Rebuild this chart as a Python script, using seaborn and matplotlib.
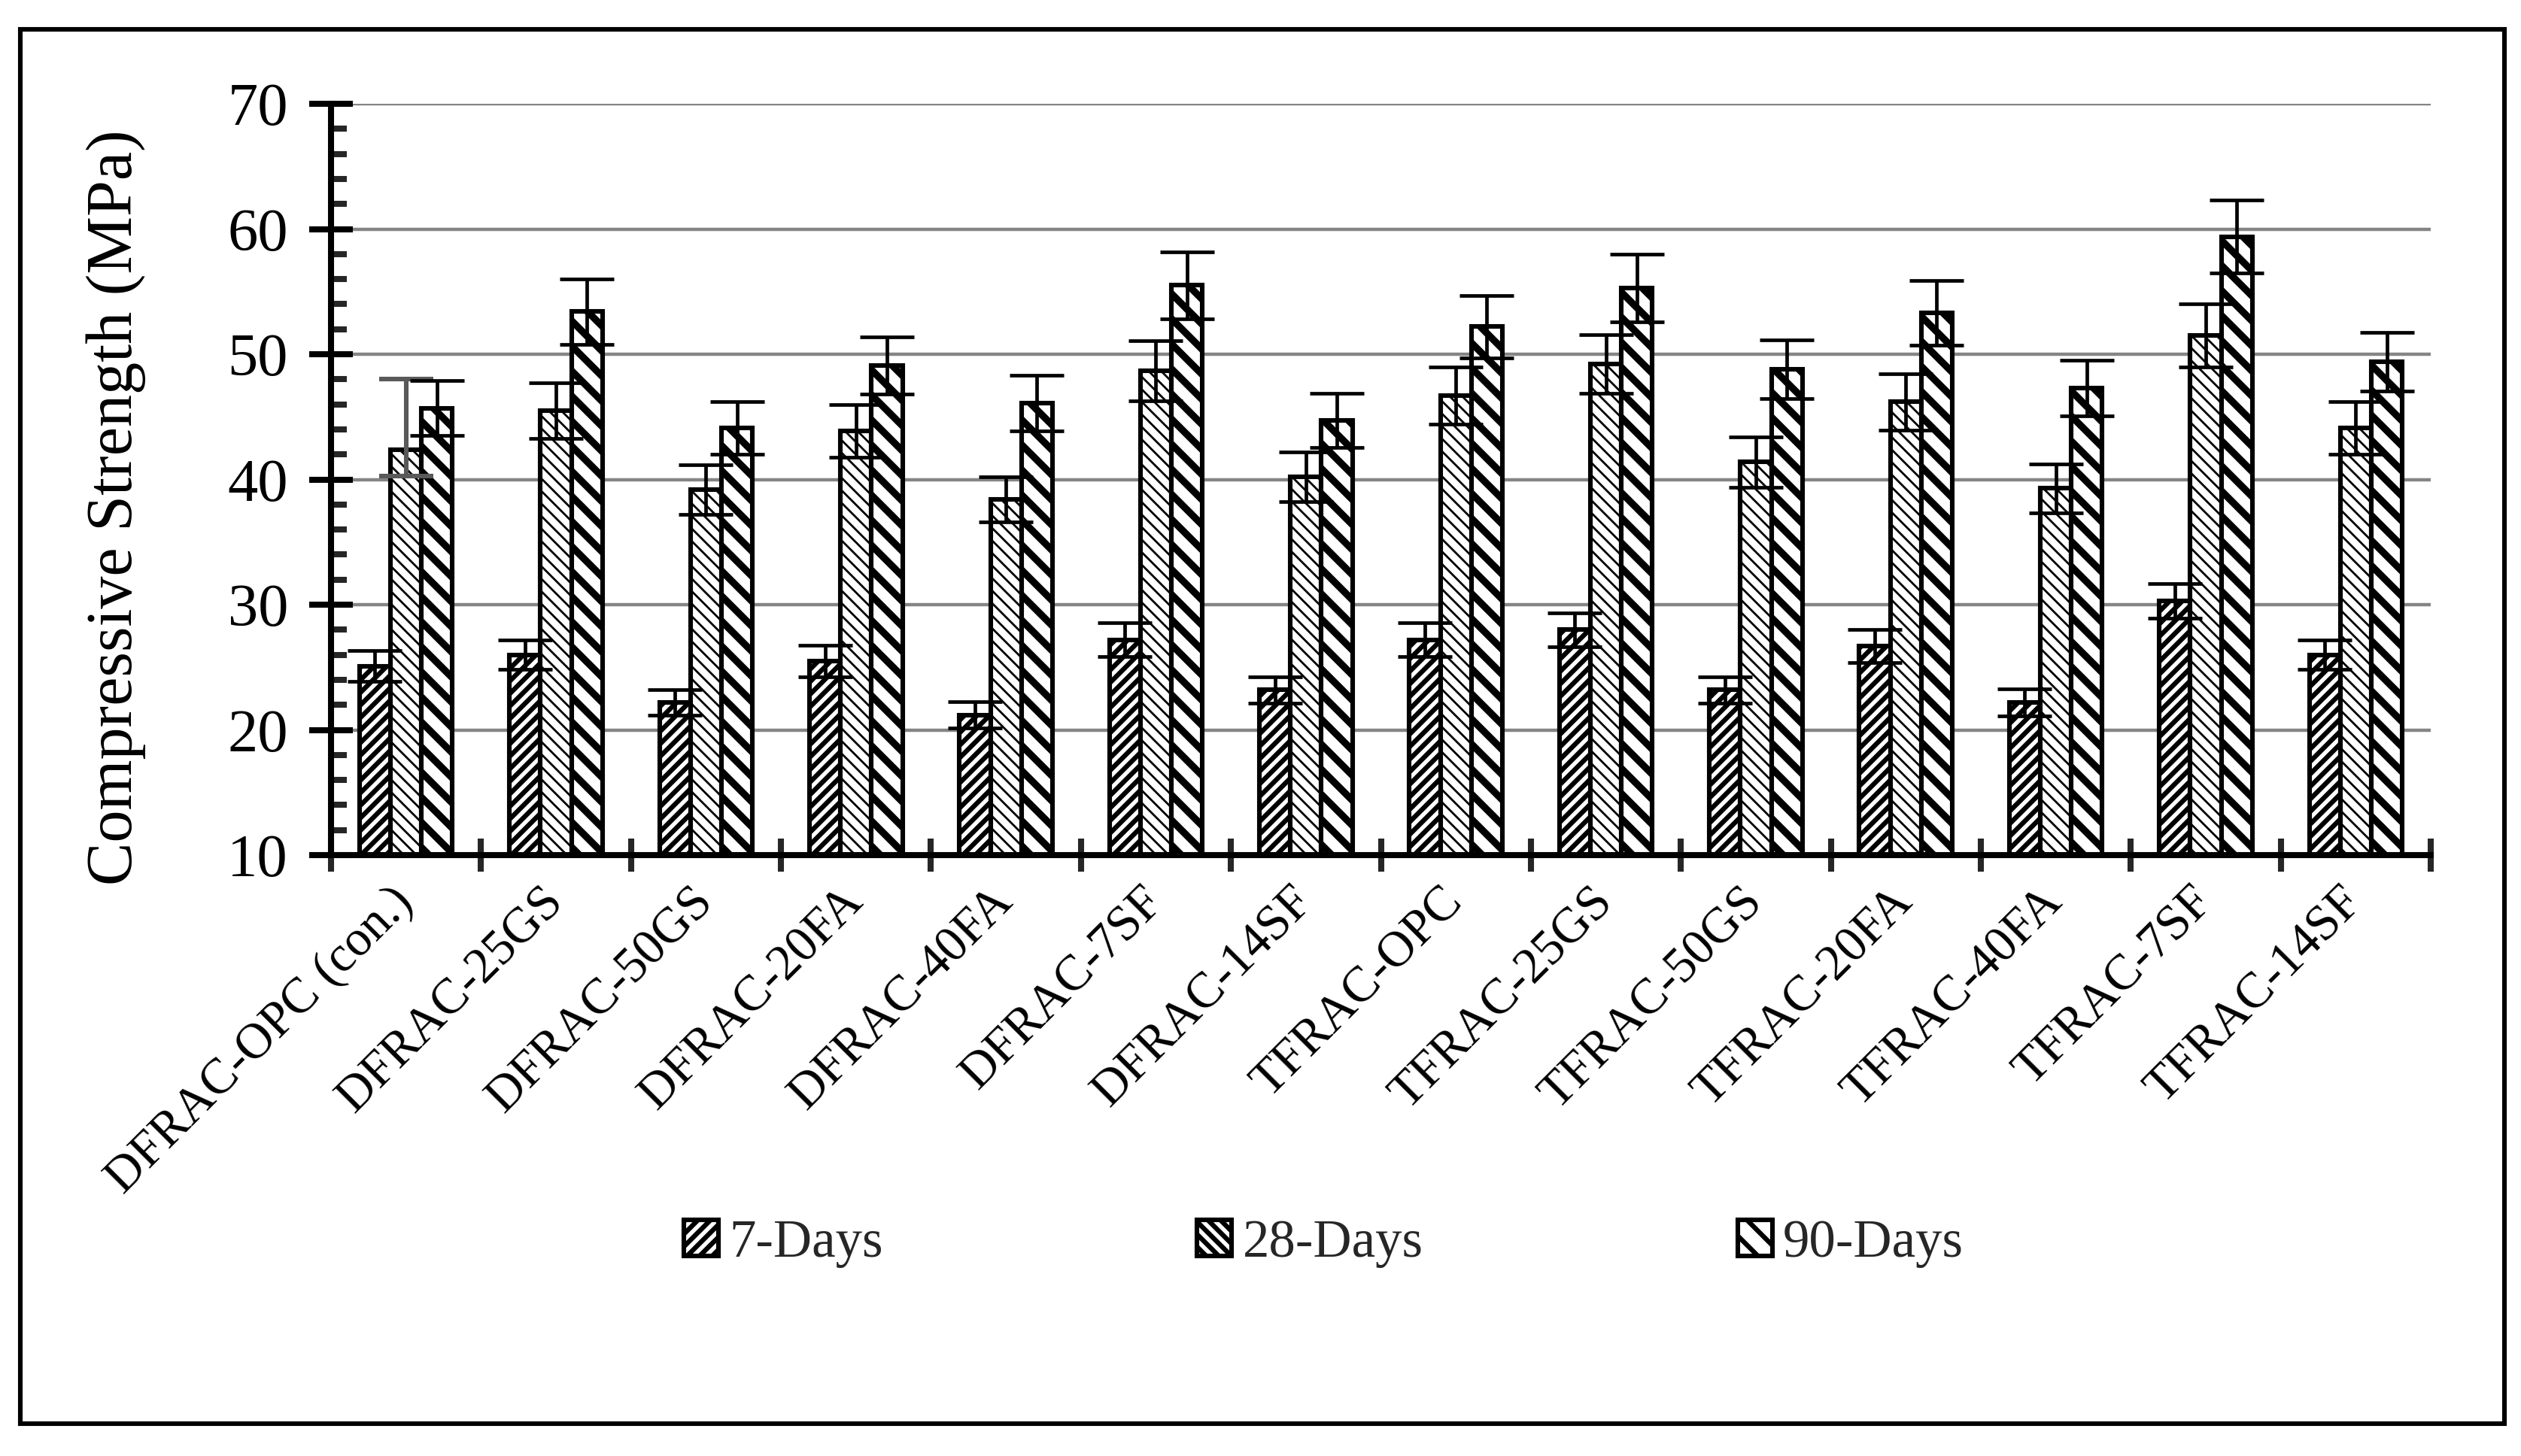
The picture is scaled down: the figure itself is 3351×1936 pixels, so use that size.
import matplotlib
matplotlib.use('Agg')
import matplotlib.pyplot as plt
from matplotlib.patches import Rectangle
from matplotlib.container import BarContainer
from matplotlib.ticker import MultipleLocator, FixedLocator
import seaborn as sns
import pandas as pd

categories = ['DFRAC-OPC (con.)', 'DFRAC-25GS', 'DFRAC-50GS', 'DFRAC-20FA', 'DFRAC-40FA',
              'DFRAC-7SF', 'DFRAC-14SF', 'TFRAC-OPC', 'TFRAC-25GS', 'TFRAC-50GS',
              'TFRAC-20FA', 'TFRAC-40FA', 'TFRAC-7SF', 'TFRAC-14SF']
ages = ['7-Days', '28-Days', '90-Days']

d7 = [25.1, 26.0, 22.2, 25.5, 21.2, 27.2, 23.2, 27.2, 28.0, 23.2, 26.7, 22.2, 30.3, 26.0]
d28 = [42.4, 45.5, 39.2, 43.9, 38.4, 48.7, 40.2, 46.7, 49.2, 41.4, 46.2, 39.3, 51.5, 44.1]
d90 = [45.7, 53.4, 44.1, 49.1, 46.1, 55.5, 44.7, 52.2, 55.3, 48.8, 53.3, 47.3, 59.4, 49.4]

e7 = [1.25, 1.15, 1.0, 1.25, 1.05, 1.35, 1.05, 1.35, 1.35, 1.05, 1.3, 1.1, 1.4, 1.15]
e28 = [2.1, 2.2, 2.0, 2.1, 1.8, 2.4, 2.0, 2.3, 2.35, 2.0, 2.25, 1.95, 2.5, 2.1]
e90 = [2.2, 2.6, 2.1, 2.3, 2.2, 2.65, 2.15, 2.5, 2.7, 2.35, 2.6, 2.2, 2.9, 2.35]
# control 28-day bar has a grey, uneven error bar in the original
con28_err = (2.1, 5.6)

hatches = ['////', '\\\\\\\\', '\\\\']
hatch_lw = [2.3, 1.0, 3.4]

df = pd.DataFrame({
    'mix': categories * 3,
    'age': [a for a in ages for _ in categories],
    'strength': d7 + d28 + d90,
})

sns.set_theme(style='white')
plt.rcParams['font.family'] = ['Liberation Serif', 'DejaVu Serif']
plt.rcParams['hatch.linewidth'] = 2.3

fig = plt.figure(figsize=(16.755, 9.68), dpi=200)
ax = fig.add_axes([0.1313, 0.4127, 0.9642 - 0.1313, 0.9287 - 0.4127])

sns.barplot(data=df, x='mix', y='strength', hue='age', order=categories, hue_order=ages,
            palette=['white'] * 3, edgecolor='black', linewidth=2.2, width=0.62,
            errorbar=None, legend=False, ax=ax, zorder=2)

bar_conts = [c for c in ax.containers if isinstance(c, BarContainer)]
errs = [e7, e28, e90]
for i, cont in enumerate(bar_conts):
    xs, ys = [], []
    for bar in cont.patches:
        bar.set_hatch(hatches[i])
        bar.set_facecolor('white')
        bar.set_edgecolor('black')
        if hasattr(bar, 'set_hatch_linewidth'):
            bar.set_hatch_linewidth(hatch_lw[i])
        xs.append(bar.get_x() + bar.get_width() / 2)
        ys.append(bar.get_height())
    yerr = list(errs[i])
    if i == 1:
        ax.errorbar(xs[1:], ys[1:], yerr=yerr[1:], fmt='none', ecolor='black',
                    elinewidth=1.7, capsize=13, capthick=1.7, zorder=3)
        ax.errorbar([xs[0]], [ys[0]], yerr=[[con28_err[0]], [con28_err[1]]], fmt='none',
                    ecolor='#595959', elinewidth=2.2, capsize=13, capthick=2.2, zorder=3)
    else:
        ax.errorbar(xs, ys, yerr=yerr, fmt='none', ecolor='black',
                    elinewidth=1.7, capsize=13, capthick=1.7, zorder=3)

ax.set_ylim(10, 70)
ax.set_xlim(-0.5, len(categories) - 0.5)
ax.yaxis.set_major_locator(MultipleLocator(10))
ax.yaxis.set_minor_locator(MultipleLocator(2))
ax.grid(axis='y', which='major', color='#858585', linewidth=1.6)
ax.set_axisbelow(True)

for s in ['top', 'right']:
    ax.spines[s].set_visible(False)
for s in ['left', 'bottom']:
    ax.spines[s].set_linewidth(2.9)
    ax.spines[s].set_color('black')

ax.tick_params(axis='y', which='major', direction='inout', length=21, width=2.9,
               pad=10, labelsize=29, colors='black', left=True)
ax.tick_params(axis='y', which='minor', direction='in', length=7.5, width=2.9, left=True)

ax.xaxis.set_minor_locator(FixedLocator([k - 0.5 for k in range(len(categories) + 1)]))
ax.tick_params(axis='x', which='minor', direction='inout', length=16, width=2.9, bottom=True)
ax.tick_params(axis='x', which='major', direction='in', length=3, width=2.9, bottom=True,
               pad=19, labelsize=24, colors='black')
ax.set_xticks(range(len(categories)))
ax.set_xticklabels(categories, rotation=45, ha='right', va='center', rotation_mode='anchor')

ax.set_xlabel('')
ax.set_ylabel('Compressive Strength (MPa)', fontsize=31, color='black')
ax.yaxis.set_label_coords(-0.088, 0.463)

handles = [cont.patches[0] for cont in bar_conts]
fig.legend(handles, ages, loc='center', bbox_to_anchor=(0.525, 0.146), ncol=3,
           frameon=False, fontsize=25.5, columnspacing=5.9, handlelength=0.65,
           handleheight=0.65, handletextpad=0.2)

fig.add_artist(Rectangle((0.008, 0.022), 0.9854, 0.958, transform=fig.transFigure,
                         fill=False, linewidth=2.2, edgecolor='black'))

fig.savefig('out.png', dpi=200, facecolor='white')
